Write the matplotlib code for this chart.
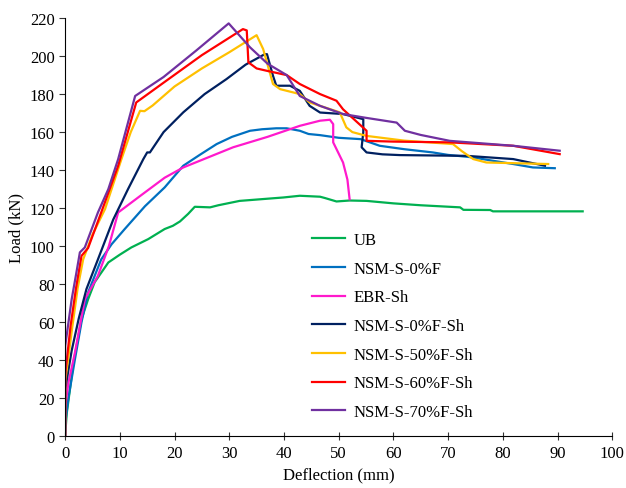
import numpy as np
import matplotlib.pyplot as plt

# load-deflection curves (mm, kN)
ub_x = [0, 0.3, 1.5, 3.0, 4.2, 5.4, 7.9, 10, 12.1, 15.2, 16.5, 18.2, 19.7, 21, 22.5, 23.7, 26.5, 28, 31.9, 35, 39.9, 42.9, 46.6, 47.5, 49.6, 52, 55.1, 60, 65, 72.2, 72.8, 77.7, 78.2, 94.6]
ub_y = [0, 12, 38, 61.6, 72, 81, 91.4, 95.5, 99.3, 103.7, 106, 109, 110.7, 113, 117, 120.7, 120.4, 121.5, 123.8, 124.5, 125.6, 126.5, 126, 125.3, 123.5, 124, 123.8, 122.5, 121.5, 120.4, 119.1, 119, 118.3, 118.3]

nsm0_x = [0, 0.05, 0.6, 1.8, 3.0, 4.2, 6.6, 8.5, 10.9, 14.6, 18.2, 21.6, 24.6, 27.7, 30.5, 33.8, 36, 38.6, 40.5, 42.9, 44.5, 46.6, 50, 54, 57.5, 62, 67.2, 70, 74.5, 78, 81.9, 85.5, 89.5]
nsm0_y = [0, 7.4, 20, 40.5, 60, 75.6, 93, 101, 109, 121, 130.9, 142.3, 148, 153.7, 157.5, 160.7, 161.5, 162, 162, 160.7, 159, 158.4, 157, 156.3, 152.8, 151, 149.3, 148, 146.7, 145, 143.2, 141.4, 141]

ebr_x = [0, 0.02, 0.6, 1.8, 3.6, 6.0, 8.0, 9.7, 14, 18.2, 21.6, 30.7, 37, 42.9, 46.6, 48.4, 49, 49, 50.8, 51.6, 52]
ebr_y = [0, 15.3, 28, 44, 72, 84.4, 100, 117.7, 127, 136, 141.4, 152, 157.5, 163.3, 166, 166.5, 164.2, 154.6, 144, 135, 124.7]

nsm0sh_x = [0, 0.02, 1.2, 2.5, 3.9, 6.0, 8.8, 11.5, 14.3, 15, 15.5, 18, 21.6, 25.5, 29.5, 33, 36.5, 36.9, 38, 38.6, 41.1, 42.9, 44.7, 46.6, 50.8, 54.5, 54.5, 54.2, 55.1, 58, 61.2, 73.4, 81.9, 87.7]
nsm0sh_y = [0, 24.7, 45, 62, 77.4, 93, 114, 130, 145.8, 149.3, 149.3, 160, 170.4, 180, 187.9, 195.5, 201, 201, 189.6, 184.4, 184.4, 181.7, 173.8, 170.3, 169.5, 166.8, 160, 152, 149.3, 148.3, 147.9, 147.5, 145.8, 142.3]

nsm50_x = [0, 0.02, 1.2, 2.3, 3.3, 5, 7.3, 10.3, 12, 13.7, 14.5, 16, 20, 25, 30, 35, 36.2, 38, 39.3, 42.9, 44.7, 50.2, 51.4, 52.5, 55.1, 62, 70.9, 72.5, 74.6, 77, 88.3]
nsm50_y = [0, 29, 55, 78, 93, 106, 119.5, 145.8, 160, 171.2, 171, 174, 184, 193.5, 202, 211, 203.7, 185.3, 182.6, 180, 175.6, 170.4, 162.5, 160, 158, 155.5, 153.7, 150, 145.8, 144, 143.2]

nsm60_x = [0, 0.02, 1.0, 2.0, 3.0, 4.2, 6.6, 9.7, 13, 18, 25, 32.5, 33.2, 33.5, 35, 36.8, 40.5, 42.9, 46.6, 49.6, 50.8, 55.1, 55.1, 60, 70.3, 81.9, 90.4]
nsm60_y = [0, 32.6, 58, 78, 94.9, 99, 117.7, 142.3, 175.6, 186, 200.5, 214.2, 213.5, 196.7, 193.5, 192.3, 190, 185.3, 180, 176.5, 172, 160.7, 155.4, 155, 154.6, 152.8, 148.4]

nsm70_x = [0, 0.02, 1.2, 2.0, 2.7, 3.6, 6.0, 7.9, 9.7, 12.8, 18, 24, 29.9, 33.8, 37, 40.5, 42.9, 46.6, 50.8, 55, 60.6, 62.1, 65, 70.3, 81.9, 90.4]
nsm70_y = [0, 47.5, 72, 85, 96.7, 99.3, 117.7, 130, 145.8, 179, 189, 203, 217.2, 204.6, 196, 190, 179, 173.8, 169.5, 167.5, 165, 160.7, 158.5, 155.4, 152.8, 150.2]

labels = ['UB', 'NSM-S-0%F', 'EBR-Sh', 'NSM-S-0%F-Sh', 'NSM-S-50%F-Sh', 'NSM-S-60%F-Sh', 'NSM-S-70%F-Sh']
colors = ['#00B050', '#0070C0', '#FF19CC', '#002060', '#FFC000', '#FF0000', '#7030A0']

plt.rcParams['font.family'] = ['Liberation Serif', 'DejaVu Serif']

fig = plt.figure(figsize=(6.26, 4.89), dpi=100)
ax = fig.add_axes([0.104, 0.106, 0.874, 0.855])

series = [(ub_x, ub_y), (nsm0_x, nsm0_y), (ebr_x, ebr_y), (nsm0sh_x, nsm0sh_y),
          (nsm50_x, nsm50_y), (nsm60_x, nsm60_y), (nsm70_x, nsm70_y)]
for (x, y), lab, c in zip(series, labels, colors):
    ax.plot(x, y, color=c, lw=1.6, label=lab)

ax.set_xlim(0, 100)
ax.set_ylim(0, 220)
ax.set_xticks(np.arange(0, 101, 10))
ax.set_yticks(np.arange(0, 221, 20))
ax.spines['top'].set_visible(False)
ax.spines['right'].set_visible(False)
ax.tick_params(labelsize=12, direction='out', length=4, color='#333333')
ax.tick_params(axis='x', direction='inout', length=6)
ax.set_xlabel('Deflection (mm)', fontsize=12)
ax.set_ylabel('Load (kN)', fontsize=12)

ax.legend(loc='upper left', bbox_to_anchor=(0.474, 0.554), bbox_transform=fig.transFigure,
          frameon=False, fontsize=12, handlelength=2.0, handletextpad=0.5, labelspacing=0.76)

plt.savefig('out.png', dpi=100)
